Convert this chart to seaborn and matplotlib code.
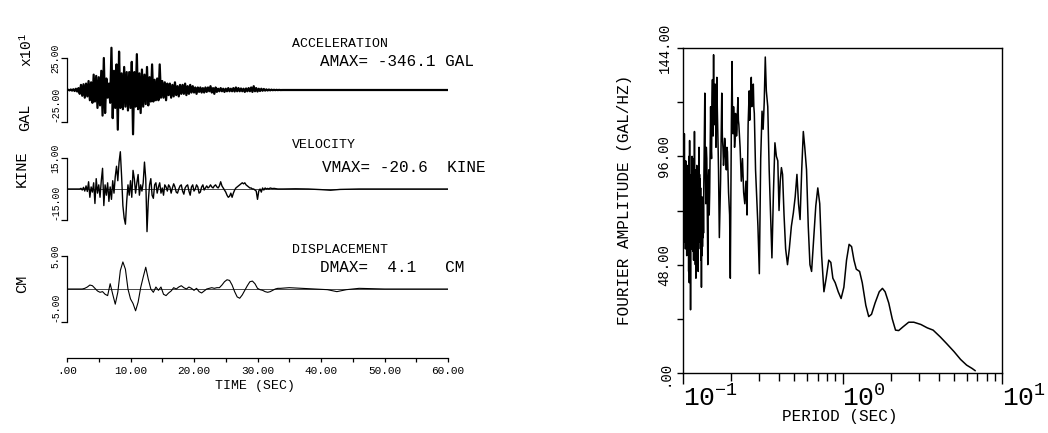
import numpy as np
import pandas as pd
import matplotlib
matplotlib.use("Agg")
import matplotlib.pyplot as plt
from matplotlib.ticker import LogLocator, NullFormatter
import seaborn as sns

# ---------------------------------------------------------------- data
# acceleration (units of 10 GAL), sampled every acc_dt seconds from t = 0
acc_dt = 0.2
acc_vals = [
    0.0, 0.2, -0.3, 0.4, -0.5, 0.6, -0.8, 1.0, -1.2, 1.5,
    -3.0, 4.0, -4.5, 4.5, -6.0, 5.0, -5.0, 7.0, -8.0, 6.0,
    -10.0, 12.0, -9.0, 11.0, -14.0, 10.0, -12.0, 15.0, -20.0, 25.0,
    -18.0, 9.0, -6.0, 5.0, -10.0, 33.0, -22.0, 15.0, -14.0, 20.0,
    -31.0, 30.0, -14.0, 13.0, -15.0, 18.0, -13.0, 14.0, -16.0, 14.0,
    -14.0, 22.0, -34.61, 14.0, -13.0, 28.0, -15.0, 13.0, -18.0, 16.0,
    -13.0, 12.0, -11.0, 18.0, -12.0, 10.0, -9.0, 20.0, -9.0, 8.0,
    -8.0, 9.0, -8.0, 20.0, -6.0, 7.0, -6.0, 6.0, -8.0, 5.0,
    -4.0, 5.0, -6.0, 4.0, -5.0, 6.0, -4.0, 3.0, -5.0, 4.0,
    -3.0, 4.0, -3.0, 5.0, -4.0, 3.0, -3.0, 4.0, -2.0, 3.0,
    -2.0, 2.0, -3.0, 2.0, -1.5, 2.0, -2.0, 1.5, -2.0, 2.0,
    -1.5, 2.0, -1.0, 3.0, -2.0, 1.5, -3.0, 2.0, -1.5, 1.0,
    -1.0, 1.5, -1.0, 1.0, -1.5, 1.0, -1.0, 1.5, -1.0, 1.0,
    -1.0, 1.5, -1.2, 2.0, -1.0, 1.5, -1.0, 1.2, -1.0, 1.0,
    -1.5, 1.2, -1.0, 1.5, -1.0, 2.0, -1.5, 3.0, -1.0, 1.5,
    -1.2, 1.0, -0.8, 1.0, -0.6, 0.8, -0.5, 0.5, -0.4, 0.4,
    -0.3, 0.3, -0.2, 0.2, -0.15, 0.15, -0.1, 0.1, -0.05, 0.0,
]
acc_tail_t = [34.0, 60.0]
acc_tail_v = [0.0, 0.0]

# velocity (KINE), sampled every vel_dt seconds from t = 0
vel_dt = 0.2
vel_vals = [
    0.0, 0.0, 0.0, 0.0, 0.0, 0.0, 0.0, 0.0, 0.0, 0.0,
    0.0, 0.3, -0.5, 0.8, -1.0, 1.5, -1.2, 3.5, -4.0, 1.0,
    -1.5, 3.0, -7.0, 5.0, -2.0, 2.0, -4.0, 4.0, 10.0, -8.0,
    2.0, -3.0, 3.0, -6.0, 1.0, -5.0, 4.0, -2.0, 6.0, 11.0,
    4.0, 13.0, 18.0, 6.0, -8.0, -14.0, -17.0, -6.0, 2.0, -3.0,
    4.0, -4.0, 9.0, 5.0, -2.0, 3.0, 7.0, -3.0, 2.0, -1.0,
    3.0, 13.0, 5.0, -20.6, -6.0, 2.0, 5.0, -3.0, -4.5, 2.0,
    3.0, -2.0, 1.0, 3.0, -2.0, 0.5, -3.0, 2.0, 1.0, -1.0,
    2.0, 1.0, -2.0, 0.5, 2.5, 1.0, -1.5, -2.0, 0.0, 1.5,
    2.0, -1.0, -2.5, 0.5, 1.5, 2.0, -1.0, -3.0, 1.0, 2.0,
    -1.0, 0.0, 2.0, 1.0, -2.0, -1.5, 1.0, 2.0, -0.5, 0.5,
    1.5, 0.5, 1.0, 2.0, 1.0, 0.5, 1.5, 2.0, 1.0, 0.5,
    1.5, 3.5, 1.5, 0.5, -0.5, -1.5, -3.0, -4.0, -3.5, -2.0,
    -4.0, -2.0, -0.5, 0.5, 1.0, 1.5, 2.0, 2.5, 3.0, 2.5,
    3.0, 2.0, 1.5, 1.0, 0.5, 0.5, 0.0, 0.0, -0.5, -1.0,
    -5.0, -1.0, 0.0, -1.5, 0.5, -0.5, 0.5, 0.0, 0.3, 0.0,
    0.5, 0.3, 0.2, 0.3, 0.2, 0.1, 0.0, 0.0, 0.0, 0.0,
]
vel_tail_t = [34.0, 36.0, 38.0, 40.0, 41.5, 43.0, 46.0, 60.0]
vel_tail_v = [0.0, 0.1, 0.0, -0.3, -0.6, -0.2, 0.0, 0.0]

# displacement (CM), sampled every dis_dt seconds from t = 0
dis_dt = 0.4
dis_vals = [
    0.0, 0.0, 0.0, 0.0, 0.0, 0.0, 0.0, 0.1, 0.3, 0.6,
    0.5, 0.1, -0.3, -0.5, -0.4, -0.8, -1.0, 0.8, -0.8, -2.3,
    -0.5, 2.8, 4.1, 3.0, 0.0, -1.5, -2.2, -3.3, -2.0, 0.2,
    1.8, 3.3, 1.5, 0.0, -0.5, 0.3, -0.2, 0.3, -0.8, -1.0,
    -0.6, -0.3, 0.2, 0.0, 0.3, 0.5, 0.2, 0.0, 0.3, 0.1,
    -0.2, 0.1, -0.4, -0.6, -0.3, 0.0, 0.1, 0.2, 0.1, 0.2,
    0.2, 0.6, 1.1, 1.4, 1.3, 0.6, -0.4, -1.2, -1.4, -0.9,
    -0.2, 0.5, 1.1, 1.2, 0.8, 0.1, -0.1, -0.2, -0.4, -0.5,
    -0.4, -0.2, 0.0, 0.1, 0.1,
]
dis_tail_t = [35.0, 37.0, 39.0, 41.0, 42.5, 44.0, 46.0, 50.0, 60.0]
dis_tail_v = [0.2, 0.1, 0.0, -0.1, -0.4, -0.1, 0.1, 0.0, 0.0]

time_ticks = [0, 5, 10, 15, 20, 25, 30, 35, 40, 45, 50, 55, 60]
time_labels = [".00", "", "10.00", "", "20.00", "", "30.00", "", "40.00", "", "50.00", "", "60.00"]

# Fourier amplitude spectrum (GAL/HZ) against period (SEC)
periods = [
    0.1000, 0.1005, 0.1010, 0.1015, 0.1020, 0.1025, 0.1030, 0.1035, 0.1040, 0.1045,
    0.1050, 0.1055, 0.1060, 0.1065, 0.1070, 0.1075, 0.1080, 0.1085, 0.1090, 0.1095,
    0.1100, 0.1105, 0.1110, 0.1115, 0.1120, 0.1125, 0.1130, 0.1135, 0.1140, 0.1145,
    0.1150, 0.1155, 0.1160, 0.1165, 0.1170, 0.1175, 0.1180, 0.1185, 0.1190, 0.1195,
    0.1200, 0.1205, 0.1210, 0.1215, 0.1220, 0.1225, 0.1230, 0.1235, 0.1240, 0.1245,
    0.1250, 0.1255, 0.1260, 0.1265, 0.1270, 0.1275, 0.1280, 0.1285, 0.1290, 0.1295,
    0.1300, 0.1305, 0.1310, 0.1315, 0.1320, 0.1325, 0.1330, 0.1335, 0.1340, 0.1345,
    0.1350, 0.1370, 0.1380, 0.1390, 0.1400, 0.1410, 0.1420, 0.1430, 0.1440, 0.1450,
    0.1460, 0.1470, 0.1480, 0.1490, 0.1500, 0.1510, 0.1520, 0.1530, 0.1538, 0.1545,
    0.1550, 0.1555, 0.1562, 0.1570, 0.1580, 0.1590, 0.1600, 0.1610, 0.1620, 0.1630,
    0.1640, 0.1650, 0.1660, 0.1670, 0.1690, 0.1720, 0.1750, 0.1765, 0.1780, 0.1795,
    0.1810, 0.1825, 0.1840, 0.1855, 0.1870, 0.1885, 0.1900, 0.1930, 0.1960, 0.1980,
    0.2010, 0.2030, 0.2045, 0.2060, 0.2075, 0.2090, 0.2105, 0.2120, 0.2135, 0.2150,
    0.2165, 0.2180, 0.2195, 0.2210, 0.2225, 0.2240, 0.2280, 0.2320, 0.2360, 0.2400,
    0.2440, 0.2480, 0.2520, 0.2560, 0.2580, 0.2600, 0.2620, 0.2640, 0.2660, 0.2680,
    0.2700, 0.2720, 0.2740, 0.2760, 0.2780, 0.2800, 0.2850, 0.2900, 0.2950, 0.3010,
    0.3070, 0.3130, 0.3180, 0.3230, 0.3280, 0.3330, 0.3400, 0.3470, 0.3540, 0.3610,
    0.3690, 0.3770, 0.3850, 0.3930, 0.4000, 0.4070, 0.4140, 0.4210, 0.4300, 0.4400,
    0.4520, 0.4640, 0.4780, 0.4920, 0.5050, 0.5180, 0.5300, 0.5420, 0.5550, 0.5680,
    0.5800, 0.5950, 0.6100, 0.6250, 0.6400, 0.6600, 0.6800, 0.7000, 0.7200, 0.7400,
    0.7650, 0.7900, 0.8200, 0.8450, 0.8700, 0.9000, 0.9400, 0.9800, 1.0200, 1.0600,
    1.1000, 1.1400, 1.1800, 1.2200, 1.2800, 1.3300, 1.4000, 1.4600, 1.5200, 1.6000,
    1.7000, 1.7800, 1.8500, 1.9500, 2.0500, 2.1500, 2.2500, 2.4000, 2.6000, 2.8000,
    3.1000, 3.4000, 3.7000, 4.1000, 4.5000, 5.0000, 5.5000, 6.0000, 6.5000, 6.8000,
]
amps = [
    100, 62, 96, 58, 106, 66, 90, 55, 94, 62,
    88, 52, 92, 66, 86, 58, 80, 45, 96, 40,
    103, 52, 84, 28, 80, 55, 88, 62, 96, 60,
    90, 54, 86, 50, 95, 58, 107, 62, 90, 48,
    84, 42, 88, 60, 92, 66, 86, 55, 80, 45,
    90, 62, 100, 65, 88, 58, 86, 55, 82, 50,
    76, 38, 72, 52, 78, 56, 70, 60, 76, 62,
    82, 124, 90, 75, 100, 95, 70, 48, 85, 90,
    70, 80, 100, 118, 100, 95, 120, 130, 108, 105,
    125, 141, 115, 110, 125, 128, 112, 100, 122, 131,
    118, 110, 100, 90, 60, 85, 124, 105, 100, 92,
    96, 104, 100, 94, 90, 100, 98, 80, 70, 42,
    110, 138, 112, 106, 118, 112, 100, 104, 115, 113,
    105, 108, 116, 122, 112, 110, 100, 85, 95, 80,
    75, 85, 70, 110, 118, 125, 112, 118, 126, 131,
    118, 120, 126, 128, 118, 115, 90, 77, 65, 44,
    95, 116, 108, 120, 140, 125, 118, 90, 70, 51,
    80, 102, 96, 94, 72, 85, 91, 88, 70, 55,
    48, 55, 65, 71, 78, 88, 75, 68, 90, 107,
    100, 90, 65, 48, 45, 60, 74, 82, 75, 52,
    36, 42, 50, 49, 42, 40, 36, 33, 38, 50,
    57, 56, 50, 46, 45, 40, 30, 25, 26, 31,
    36, 37.5, 36, 31, 24, 19, 18.8, 20.5, 22.5, 22.5,
    21.5, 20, 19, 16, 13, 9.5, 6, 3.5, 2, 1,
]
amp_ticks = [0, 24, 48, 72, 96, 120, 144]
amp_labels = [".00", "", "48.00", "", "96.00", "", "144.00"]
period_ticks = [0.1, 1.0, 10.0]
period_labels = ["10$^{-1}$", "10$^{0}$", "10$^{1}$"]

# ---------------------------------------------------------------- style
sns.set_theme(style="white")
sns.set_style("white", {"axes.edgecolor": "black", "xtick.color": "black",
                        "ytick.color": "black", "text.color": "black"})
plt.rcParams["font.family"] = ["Liberation Mono", "DejaVu Sans"]
plt.rcParams["mathtext.fontset"] = "custom"
plt.rcParams["mathtext.rm"] = "Liberation Mono"
plt.rcParams["mathtext.it"] = "Liberation Mono"
plt.rcParams["mathtext.default"] = "regular"

W, H = 1048, 433
fig = plt.figure(figsize=(W / 100, H / 100), dpi=100)
fig.patch.set_facecolor("white")


def px_axes(left, top, right, bottom):
    return fig.add_axes([left / W, 1 - bottom / H, (right - left) / W, (bottom - top) / H])


def ptext(x, y, s, **kw):
    fig.text(x / W, 1 - y / H, s, **kw)


def series(dt, vals, tail_t, tail_v):
    t = list(np.arange(len(vals)) * dt) + list(tail_t)
    v = list(vals) + list(tail_v)
    return pd.DataFrame({"t": t, "v": v})


trace_specs = [
    (series(acc_dt, acc_vals, acc_tail_t, acc_tail_v), 90.0, 1.28, 39.0, 25.0, ["-25.00", "25.00"], 1.6),
    (series(vel_dt, vel_vals, vel_tail_t, vel_tail_v), 189.0, 2.07, 24.0, 15.0, ["-15.00", "15.00"], 1.0),
    (series(dis_dt, dis_vals, dis_tail_t, dis_tail_v), 289.0, 6.6, 6.0, 5.0, ["-5.00", "5.00"], 0.8),
]

for df, zero_px, scale, lim, tk, labs, lw in trace_specs:
    ax = px_axes(67, zero_px - lim * scale, 448, zero_px + lim * scale)
    ax.axhline(0, color="black", lw=0.5)
    sns.lineplot(data=df, x="t", y="v", ax=ax, color="black", lw=lw,
                 estimator=None, sort=False)
    ax.set_xlim(0, 60)
    ax.set_ylim(-lim, lim)
    ax.set_facecolor("none")
    for s in ["top", "right", "bottom"]:
        ax.spines[s].set_visible(False)
    ax.spines["left"].set_bounds(-tk, tk)
    ax.spines["left"].set_linewidth(0.9)
    ax.set_xticks([])
    ax.set_yticks([-tk, tk])
    ax.set_yticklabels(labs, rotation=90, fontsize=7)
    ax.tick_params(axis="y", direction="out", length=4, width=0.9, pad=1, left=True)
    tl = ax.get_yticklabels()
    tl[0].set_va("bottom")
    tl[1].set_va("center")
    ax.set_xlabel("")
    ax.set_ylabel("")

# time axis
axt = px_axes(67, 340, 448, 358)
axt.set_facecolor("none")
axt.set_xlim(0, 60)
axt.set_yticks([])
for s in ["top", "right", "left"]:
    axt.spines[s].set_visible(False)
axt.spines["bottom"].set_linewidth(0.9)
axt.set_xticks(time_ticks)
axt.set_xticklabels(time_labels, fontsize=8)
axt.tick_params(axis="x", direction="out", length=3, width=0.9, pad=3, bottom=True)

# left text
ptext(292, 44, "ACCELERATION", fontsize=9.5, va="center", ha="left")
ptext(320, 62, "AMAX= -346.1 GAL", fontsize=11.5, va="center", ha="left")
ptext(292, 145, "VELOCITY", fontsize=9.5, va="center", ha="left")
ptext(322, 167, "VMAX= -20.6  KINE", fontsize=11.5, va="center", ha="left")
ptext(292, 250, "DISPLACEMENT", fontsize=9.5, va="center", ha="left")
ptext(320, 267, "DMAX=  4.1   CM", fontsize=11.5, va="center", ha="left")
ptext(255, 386, "TIME (SEC)", fontsize=9.5, va="center", ha="center")
ptext(27, 50, "x10$^1$", fontsize=10.5, rotation=90, va="center", ha="center")
ptext(25, 117, "GAL", fontsize=11, rotation=90, va="center", ha="center")
ptext(22, 169, "KINE", fontsize=11, rotation=90, va="center", ha="center")
ptext(22, 284, "CM", fontsize=11, rotation=90, va="center", ha="center")

# right: Fourier spectrum
axr = px_axes(683, 48, 1002, 373)
sns.lineplot(x=periods, y=amps, ax=axr, color="black", lw=1.1,
             estimator=None, sort=False)
axr.set_xscale("log")
axr.set_xlim(0.1, 10)
axr.set_ylim(0, 144)
for s in axr.spines.values():
    s.set_linewidth(1.0)
    s.set_color("black")
axr.set_xticks(period_ticks)
axr.set_xticklabels(period_labels, fontsize=19, ha="left")
axr.xaxis.set_minor_locator(LogLocator(base=10, subs=np.arange(2, 10)))
axr.xaxis.set_minor_formatter(NullFormatter())
axr.tick_params(axis="x", which="major", direction="out", length=8, width=1.0, pad=1, bottom=True)
axr.tick_params(axis="x", which="minor", direction="out", length=5.5, width=1.0, bottom=True)
axr.set_yticks(amp_ticks)
axr.set_yticklabels(amp_labels, rotation=90, fontsize=10, va="center")
axr.tick_params(axis="y", direction="out", length=4.3, width=1.0, pad=4, left=True)
axr.set_xlabel("")
axr.set_ylabel("")
ptext(625, 200, "FOURIER AMPLITUDE (GAL/HZ)", fontsize=11.5, rotation=90, va="center", ha="center")
ptext(840, 417, "PERIOD (SEC)", fontsize=11.5, va="center", ha="center")

fig.savefig("out.png", dpi=100, facecolor="white")
